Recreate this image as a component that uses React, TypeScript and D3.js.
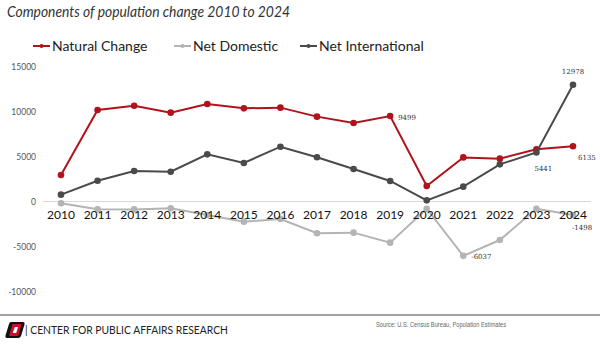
import React from "react";
import * as d3 from "d3";

const years = [2010, 2011, 2012, 2013, 2014, 2015, 2016, 2017, 2018, 2019, 2020, 2021, 2022, 2023, 2024];
const naturalChange = [2940, 10170, 10640, 9870, 10830, 10350, 10430, 9430, 8720, 9499, 1720, 4900, 4760, 5800, 6135];
const netDomestic = [-200, -870, -880, -760, -1500, -2240, -1950, -3530, -3460, -4570, -800, -6037, -4280, -800, -1498];
const netInternational = [760, 2310, 3390, 3310, 5240, 4280, 6090, 4910, 3610, 2280, 130, 1650, 4130, 5441, 12978];
const yTicks = [15000, 10000, 5000, 0, -5000, -10000];

const series = [
  { name: "Natural Change", values: naturalChange, color: "#b0131c" },
  { name: "Net Domestic", values: netDomestic, color: "#b4b4b4" },
  { name: "Net International", values: netInternational, color: "#4a4a4a" },
];

const labels = [
  { s: 0, i: 9, dx: 8, dy: 4, anchor: "start" },
  { s: 0, i: 14, dx: 5, dy: 14, anchor: "start" },
  { s: 2, i: 14, dx: 0, dy: -11, anchor: "middle" },
  { s: 2, i: 13, dx: -2, dy: 18, anchor: "start" },
  { s: 1, i: 11, dx: 8, dy: 3, anchor: "start" },
  { s: 1, i: 14, dx: -1, dy: 15, anchor: "start" },
];

const W = 600;
const H = 349;
const font = "Lato, 'Open Sans', sans-serif";

export default function App() {
  const x = d3.scalePoint<number>().domain(years).range([61, 573]);
  const y = d3.scaleLinear().domain([-10000, 15000]).range([291.5, 66.5]);
  const line = d3
    .line<number>()
    .x((_, i) => x(years[i]) as number)
    .y((d) => y(d));

  return (
    <svg width={W} height={H} style={{ position: "absolute", left: 0, top: 0, background: "#fff" }}>
      <text x={7} y={17} fontFamily={font} fontStyle="italic" fontSize={15} fill="#333" textLength={283} lengthAdjust="spacingAndGlyphs">
        Components of population change 2010 to 2024
      </text>

      {/* legend */}
      {series.map((s, k) => {
        const lx = [33, 174, 300][k];
        return (
          <g key={s.name}>
            <line x1={lx} x2={lx + 17} y1={46} y2={46} stroke={s.color} strokeWidth={2} />
            <circle cx={lx + 8.5} cy={46} r={2} fill={s.color} />
            <text x={lx + 19} y={51} fontFamily={font} fontSize={14} fill="#222">
              {s.name}
            </text>
          </g>
        );
      })}

      {/* y axis labels */}
      {yTicks.map((t) => (
        <text key={t} x={36} y={y(t) + 3} textAnchor="end" fontFamily={font} fontSize={8.5} fill="#555">
          {t}
        </text>
      ))}
      <line x1={43} x2={591} y1={y(0)} y2={y(0)} stroke="#d9d9d9" strokeWidth={1} />

      {/* series */}
      {series.map((s) => (
        <g key={s.name}>
          <path d={line(s.values) || ""} fill="none" stroke={s.color} strokeWidth={2} />
          {s.values.map((v, i) => (
            <circle key={i} cx={x(years[i])} cy={y(v)} r={3.3} fill={s.color} />
          ))}
        </g>
      ))}

      {/* x labels */}
      {years.map((yr) => (
        <text
          key={yr}
          x={x(yr)}
          y={y(0) + 17}
          textAnchor="middle"
          fontFamily={font}
          fontSize={12}
          fill="#111"
        >
          {yr}
        </text>
      ))}

      {/* data labels */}
      {labels.map((l, k) => {
        const s = series[l.s];
        return (
          <text
            key={k}
            x={(x(years[l.i]) as number) + l.dx}
            y={y(s.values[l.i]) + l.dy}
            textAnchor={l.anchor}
            fontFamily="'DejaVu Serif', serif"
            fontSize={7}
            fill="#333"
          >
            {s.values[l.i]}
          </text>
        );
      })}

      {/* footer */}
      <line x1={0} x2={600} y1={315} y2={315} stroke="#444" strokeWidth={1.2} />
      <g transform="translate(6,322)">
        <path d="M5,0 L17,0 Q19,0 18.5,2.5 L15,14 Q14.4,16 12,16 L1,16 Q-1,16 -0.5,13.5 L3,2 Q3.6,0 5,0 Z" fill="#111" />
        <path d="M6.5,2 L15.5,2 L12.3,14 L3,14 Z" fill="#c8102e" />
        <path d="M8.8,5 L12,5 L10.2,11 L6.7,11 Z" fill="#fff" />
      </g>
      <text x={25} y={334} fontFamily={font} fontSize={12.3} fill="#222" textLength={203} lengthAdjust="spacingAndGlyphs">
        | CENTER FOR PUBLIC AFFAIRS RESEARCH
      </text>
      <text x={376} y={327} fontFamily="'Liberation Sans Narrow', 'Liberation Sans', sans-serif" fontSize={7} fill="#666" textLength={130} lengthAdjust="spacingAndGlyphs">
        Source: U.S. Census Bureau, Population Estimates
      </text>
    </svg>
  );
}
